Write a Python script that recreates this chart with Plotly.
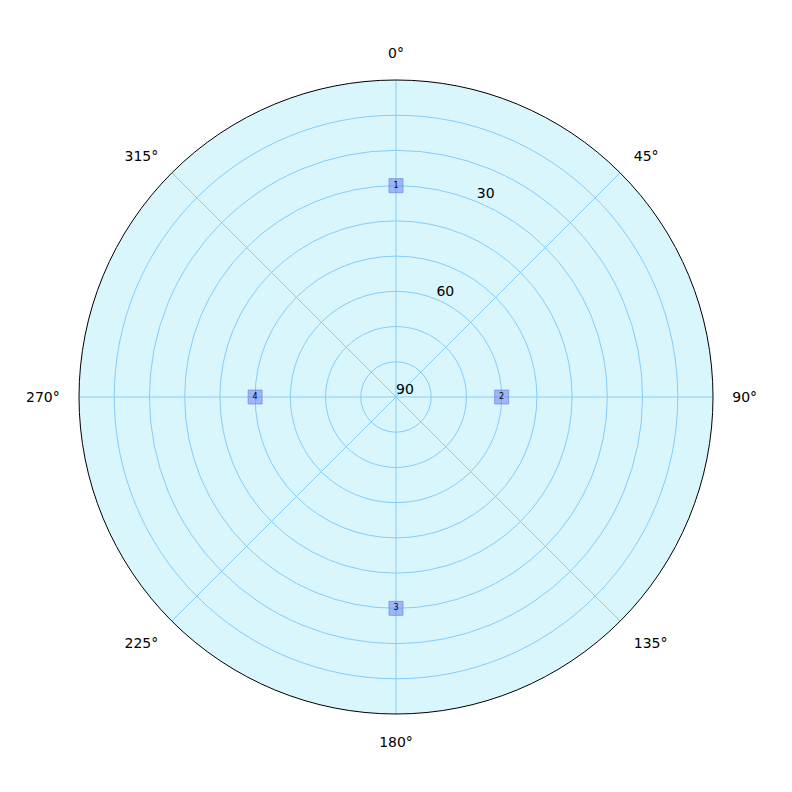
import plotly.graph_objects as go

# Satellite sky plot data
prn = ["1", "2", "3", "4"]
azimuth = [0, 90, 180, 270]
elevation = [30, 60, 30, 50]

angular_ticks = [0, 45, 90, 135, 180, 225, 270, 315]
angular_labels = [f"{a}°" for a in angular_ticks]
radial_grid = [90, 80, 70, 60, 50, 40, 30, 20, 10, 0]
radial_label_vals = [90, 60, 30]
radial_label_text = ["90", "60", "30"]
radial_label_angle = 22.5

FONT = "DejaVu Sans"

fig = go.Figure()

fig.add_trace(go.Scatterpolar(
    r=radial_label_vals,
    theta=[radial_label_angle] * len(radial_label_vals),
    mode="text",
    text=radial_label_text,
    textposition="top right",
    textfont=dict(family=FONT, size=14, color="black"),
    hoverinfo="skip",
    showlegend=False,
))

fig.add_trace(go.Scatterpolar(
    r=elevation,
    theta=azimuth,
    mode="markers+text",
    text=prn,
    textposition="middle center",
    textfont=dict(family=FONT, size=8, color="black"),
    marker=dict(symbol="square", size=14, color="rgba(110,130,240,0.55)",
                line=dict(color="rgba(100,120,230,0.6)", width=1)),
    showlegend=False,
))

fig.update_layout(
    width=792, height=792,
    margin=dict(l=71, r=87, t=72, b=86),
    paper_bgcolor="white",
    font=dict(family=FONT, size=14, color="black"),
    polar=dict(
        domain=dict(x=[0, 1], y=[0, 1]),
        bgcolor="#d8f6fc",
        radialaxis=dict(
            range=[90, 0],
            tickvals=radial_grid,
            showticklabels=False,
            ticks="",
            showline=False,
            gridcolor="#86cdf9",
            gridwidth=1,
        ),
        angularaxis=dict(
            direction="clockwise",
            rotation=90,
            tickvals=angular_ticks,
            ticktext=angular_labels,
            ticks="outside",
            ticklen=16,
            tickcolor="rgba(255,255,255,0)",
            showline=True,
            linecolor="black",
            linewidth=1,
            gridcolor="#86cdf9",
            gridwidth=1.2,
            tickfont=dict(family=FONT, size=14),
        ),
    ),
)

fig.write_html("out.html")
